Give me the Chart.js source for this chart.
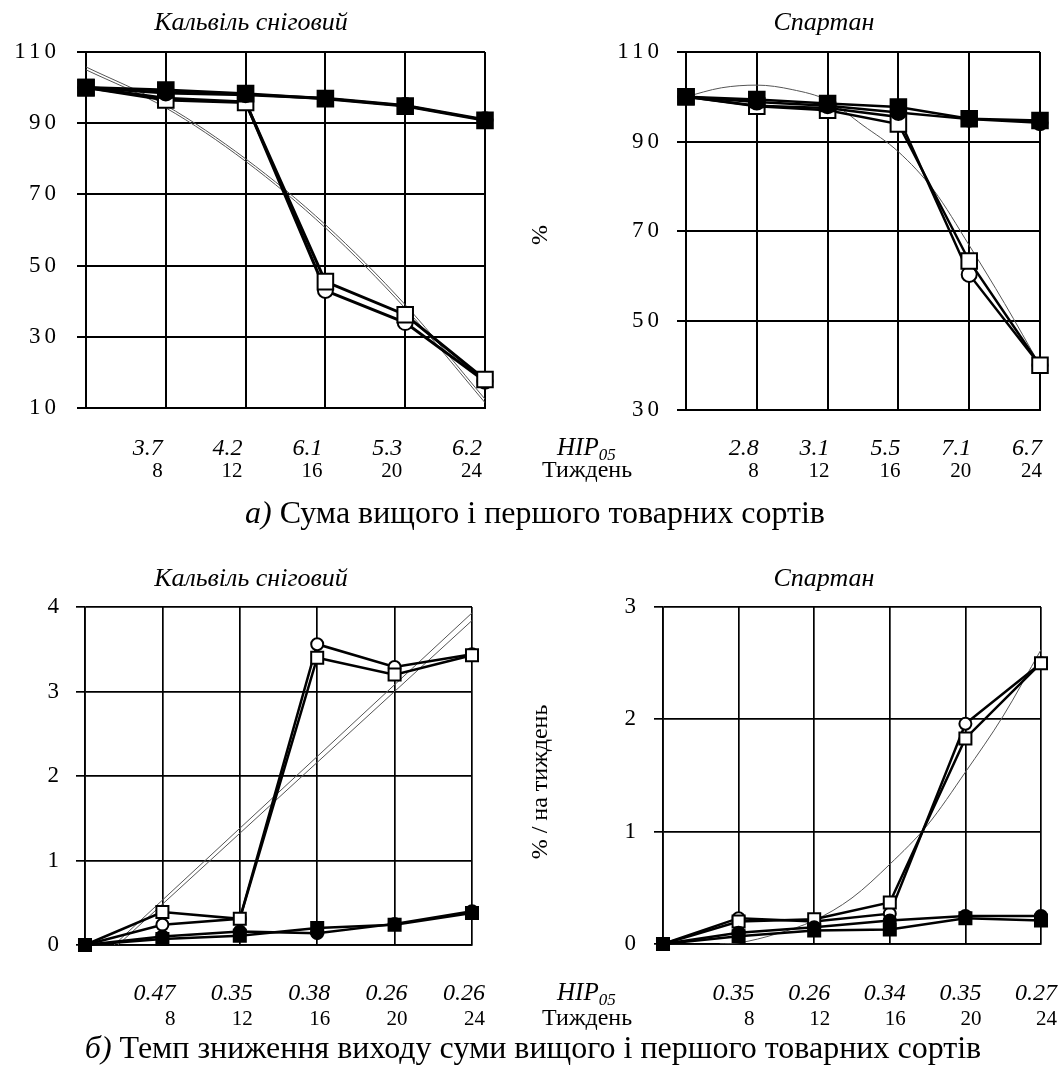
<!DOCTYPE html>
<html>
<head>
<meta charset="utf-8">
<script src="https://cdn.jsdelivr.net/npm/chart.js@4.4.1/dist/chart.umd.min.js"></script>
<style>
  body { margin: 0; background: #fff; }
  #page { position: relative; width: 1062px; height: 1066px; overflow: hidden; background: #fff; }
  #page canvas { position: absolute; left: 0; top: 0; }
</style>
</head>
<body>
<div id="page">
  <canvas id="kalSum" width="1062" height="1066"></canvas>
  <canvas id="sparSum" width="1062" height="1066"></canvas>
  <canvas id="kalRate" width="1062" height="1066"></canvas>
  <canvas id="sparRate" width="1062" height="1066"></canvas>
</div>
<script>
// ── data ─────────────────────────────────────────────────────────────────────
const weeks = [4, 8, 12, 16, 20, 24];
const weekTicks = [8, 12, 16, 20, 24];

// а) Кальвіль сніговий, %
const kalSumOpenCircle = [100, 97, 96, 43, 34, 17.5];
const kalSumOpenSquare = [100, 96.5, 95.8, 45.5, 36.2, 18];
const kalSumFilledCircle = [100, 98.5, 98, 97, 95, 91];
const kalSumFilledSquare = [100, 99.3, 98.3, 96.9, 94.8, 90.8];
const kalSumTrendA = [105.8, 95, 80, 61.5, 39, 12.5];
const kalSumTrendB = [105, 94.3, 79.3, 60.6, 38, 11.5];
const kalSumHIP = ["3.7", "4.2", "6.1", "5.3", "6.2"];

// а) Спартан, %
const sparSumOpenCircle = [100, 98, 97.5, 95.5, 60.3, 40];
const sparSumOpenSquare = [100, 97.9, 97, 93.9, 63.3, 40];
const sparSumFilledCircle = [100, 98.8, 98, 96.5, 95, 94.2];
const sparSumFilledSquare = [100, 99.4, 98.5, 97.7, 95.1, 94.7];
const sparSumTrendWeeks = [4, 6, 8, 10, 12, 14, 16, 18, 20, 22, 24];
const sparSumTrend = [100, 102, 102.6, 101.6, 99.2, 93.6, 87.7, 79.1, 66.8, 53.8, 40];
const sparSumHIP = ["2.8", "3.1", "5.5", "7.1", "6.7"];

// б) Кальвіль сніговий, % / тиждень
const kalRateOpenCircle = [0, 0.24, 0.31, 3.56, 3.29, 3.44];
const kalRateOpenSquare = [0, 0.39, 0.31, 3.40, 3.20, 3.43];
const kalRateFilledCircle = [0, 0.10, 0.16, 0.14, 0.25, 0.40];
const kalRateFilledSquare = [0, 0.07, 0.11, 0.20, 0.24, 0.38];
const kalRateTrendAWeeks = [5.5, 24];
const kalRateTrendA = [0, 3.93];
const kalRateTrendBWeeks = [5.7, 24];
const kalRateTrendB = [0, 3.84];
const kalRateHIP = ["0.47", "0.35", "0.38", "0.26", "0.26"];

// б) Спартан, % / тиждень
const sparRateOpenCircle = [0, 0.23, 0.20, 0.27, 1.96, 2.5];
const sparRateOpenSquare = [0, 0.20, 0.22, 0.37, 1.83, 2.5];
const sparRateFilledCircle = [0, 0.10, 0.15, 0.21, 0.25, 0.25];
const sparRateFilledSquare = [0, 0.07, 0.12, 0.13, 0.23, 0.21];
const sparRateTrendWeeks = [7, 8, 10, 12, 14, 16, 18, 20, 22, 24];
const sparRateTrend = [0, 0.01, 0.09, 0.21, 0.41, 0.71, 1.06, 1.53, 2.03, 2.62];
const sparRateHIP = ["0.35", "0.26", "0.34", "0.35", "0.27"];

// ── helpers ──────────────────────────────────────────────────────────────────
const FONT = '"Liberation Serif", "Times New Roman", serif';
const PAGE_W = 1062, PAGE_H = 1066;

function pts(xs, ys) {
    return xs.map((x, i) => ({ x, y: ys[i] }));
}

function series(values, style, filled, size, lw) {
    return {
        data: pts(weeks, values),
        borderColor: "#000",
        borderWidth: lw,
        pointStyle: style,
        pointRadius: style === "rect" ? size.sq : size.ci,
        pointBackgroundColor: filled ? "#000" : "#fff",
        pointBorderColor: "#000",
        pointBorderWidth: 2,
        tension: 0,
        clip: false,
    };
}

function trend(xs, values) {
    return {
        data: pts(xs, values),
        borderColor: "#555",
        borderWidth: 1,
        pointRadius: 0,
        cubicInterpolationMode: "monotone",
    };
}

function drawParts(ctx, parts, cx, y) {
    const w = parts.reduce((s, p) => { ctx.font = p.font; return s + ctx.measureText(p.text).width; }, 0);
    let x = cx - w / 2;
    ctx.textAlign = "left";
    parts.forEach(p => {
        ctx.font = p.font;
        ctx.fillText(p.text, x, y);
        x += ctx.measureText(p.text).width;
    });
}

// text around each panel: title, НІР row, week row, axis title, caption
const sheetText = {
    id: "sheetText",
    beforeDraw(chart) { chart.ctx.letterSpacing = "4px"; },
    beforeDatasetsDraw(chart) { chart.ctx.letterSpacing = "0px"; },
    afterDraw(chart) {
        const o = chart.options.plugins.sheetText;
        const ctx = chart.ctx;
        const xs = chart.scales.x;
        ctx.save();
        ctx.letterSpacing = "0px";
        ctx.fillStyle = "#000";
        ctx.textBaseline = "alphabetic";

        ctx.font = `italic 26px ${FONT}`;
        ctx.textAlign = "center";
        ctx.fillText(o.title, o.titleX, o.titleY);

        ctx.textAlign = "right";
        o.hip.forEach((v, i) => {
            const x = xs.getPixelForValue(weekTicks[i]) + o.shift;
            ctx.font = `italic 24px ${FONT}`;
            ctx.fillText(v, x, o.hipY);
            ctx.font = `21px ${FONT}`;
            ctx.fillText(String(weekTicks[i]), x, o.weekY);
        });

        if (o.rowHeads) {
            ctx.textAlign = "left";
            ctx.font = `italic 25px ${FONT}`;
            ctx.fillText("НІР", 557, o.hipY);
            const w = ctx.measureText("НІР").width;
            ctx.font = `italic 17px ${FONT}`;
            ctx.fillText("05", 557 + w, o.hipY + 5);
            ctx.font = `24px ${FONT}`;
            ctx.fillText("Тиждень", 542, o.weekY);
        }

        if (o.yTitle) {
            ctx.save();
            ctx.translate(o.yTitleX, o.yTitleY);
            ctx.rotate(-Math.PI / 2);
            ctx.textAlign = "center";
            ctx.textBaseline = "middle";
            ctx.font = `24px ${FONT}`;
            ctx.fillText(o.yTitle, 0, 0);
            ctx.restore();
        }

        if (o.caption) {
            drawParts(ctx, [
                { text: o.caption[0], font: `italic 32px ${FONT}` },
                { text: o.caption[1], font: `32px ${FONT}` },
            ], o.captionX, o.captionY);
        }
        ctx.restore();
    },
};

function buildPanel(canvasId, p) {
    const gw = p.gridWidth;
    const ctx = document.getElementById(canvasId).getContext("2d");
    return new Chart(ctx, {
        type: "line",
        data: { datasets: p.datasets },
        plugins: [sheetText],
        options: {
            responsive: false,
            animation: false,
            events: [],
            layout: {
                padding: { left: 0, top: p.area.top, right: PAGE_W - p.area.right, bottom: PAGE_H - p.area.bottom },
            },
            scales: {
                x: {
                    type: "linear",
                    min: 4,
                    max: 24,
                    ticks: { stepSize: 4, display: false },
                    grid: { color: "#000", lineWidth: gw, drawTicks: false },
                    border: { color: "#000", width: gw },
                    afterFit(s) { s.height = 0; },
                },
                y: {
                    min: p.yMin,
                    max: p.yMax,
                    ticks: {
                        stepSize: p.yStep,
                        color: "#000",
                        padding: p.tickPad,
                        font: { family: FONT, size: 23 },
                    },
                    grid: { color: "#000", lineWidth: gw, tickLength: 9 },
                    border: { color: "#000", width: gw },
                    afterFit(s) { s.width = p.area.left; },
                },
            },
            plugins: {
                legend: { display: false },
                tooltip: { enabled: false },
                sheetText: p.text,
            },
        },
    });
}

// ── panels ───────────────────────────────────────────────────────────────────
const bigMarks = { sq: 11, ci: 7.5 };
const smallMarks = { sq: 8.5, ci: 6 };

buildPanel("kalSum", {
    area: { left: 86, right: 485, top: 52, bottom: 408 },
    yMin: 10, yMax: 110, yStep: 20, gridWidth: 2, tickPad: 17,
    datasets: [
        series(kalSumFilledSquare, "rect", true, bigMarks, 3),
        series(kalSumFilledCircle, "circle", true, bigMarks, 3),
        series(kalSumOpenSquare, "rect", false, bigMarks, 3),
        series(kalSumOpenCircle, "circle", false, bigMarks, 3),
        trend(weeks, kalSumTrendA),
        trend(weeks, kalSumTrendB),
    ],
    text: {
        title: "Кальвіль сніговий", titleX: 251, titleY: 30,
        hip: kalSumHIP, shift: -3, hipY: 455, weekY: 477,
        caption: ["а)", " Сума вищого і першого товарних сортів"], captionX: 535, captionY: 523,
    },
});

buildPanel("sparSum", {
    area: { left: 686, right: 1040, top: 52, bottom: 410 },
    yMin: 30, yMax: 110, yStep: 20, gridWidth: 2, tickPad: 14,
    datasets: [
        series(sparSumFilledSquare, "rect", true, bigMarks, 2.5),
        series(sparSumFilledCircle, "circle", true, bigMarks, 2.5),
        series(sparSumOpenSquare, "rect", false, bigMarks, 2.5),
        series(sparSumOpenCircle, "circle", false, bigMarks, 2.5),
        trend(sparSumTrendWeeks, sparSumTrend),
    ],
    text: {
        title: "Спартан", titleX: 824, titleY: 30,
        hip: sparSumHIP, shift: 2, hipY: 455, weekY: 477, rowHeads: true,
        yTitle: "%", yTitleX: 541, yTitleY: 235,
    },
});

buildPanel("kalRate", {
    area: { left: 85, right: 472, top: 607, bottom: 945 },
    yMin: 0, yMax: 4, yStep: 1, gridWidth: 1.7, tickPad: 13,
    datasets: [
        series(kalRateFilledSquare, "rect", true, smallMarks, 2.5),
        series(kalRateFilledCircle, "circle", true, smallMarks, 2.5),
        series(kalRateOpenSquare, "rect", false, smallMarks, 2.5),
        series(kalRateOpenCircle, "circle", false, smallMarks, 2.5),
        trend(kalRateTrendAWeeks, kalRateTrendA),
        trend(kalRateTrendBWeeks, kalRateTrendB),
    ],
    text: {
        title: "Кальвіль сніговий", titleX: 251, titleY: 586,
        hip: kalRateHIP, shift: 13, hipY: 1000, weekY: 1025,
        caption: ["б)", " Темп зниження виходу суми вищого і першого товарних сортів"], captionX: 533, captionY: 1058,
    },
});

buildPanel("sparRate", {
    area: { left: 663, right: 1041, top: 607, bottom: 944 },
    yMin: 0, yMax: 3, yStep: 1, gridWidth: 1.7, tickPad: 14,
    datasets: [
        series(sparRateFilledSquare, "rect", true, smallMarks, 2.5),
        series(sparRateFilledCircle, "circle", true, smallMarks, 2.5),
        series(sparRateOpenSquare, "rect", false, smallMarks, 2.5),
        series(sparRateOpenCircle, "circle", false, smallMarks, 2.5),
        trend(sparRateTrendWeeks, sparRateTrend),
    ],
    text: {
        title: "Спартан", titleX: 824, titleY: 586,
        hip: sparRateHIP, shift: 16, hipY: 1000, weekY: 1025, rowHeads: true,
        yTitle: "% / на тиждень", yTitleX: 541, yTitleY: 782,
    },
});
</script>
</body>
</html>
